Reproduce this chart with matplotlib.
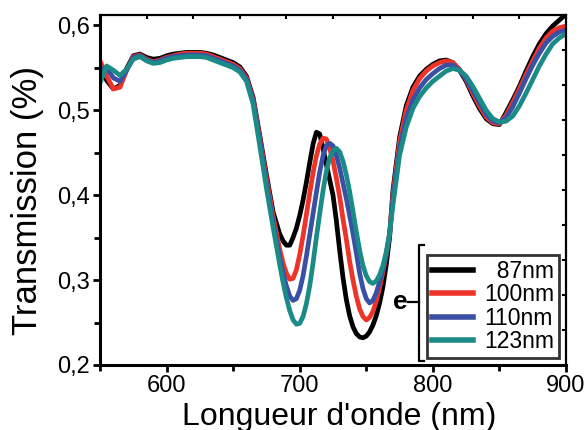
import numpy as np
import matplotlib
matplotlib.use('Agg')
import matplotlib.pyplot as plt
from matplotlib.ticker import MultipleLocator, FuncFormatter

plt.rcParams['font.family'] = ['Liberation Sans', 'DejaVu Sans']

# --- data ---
wavelength = np.concatenate([np.arange(550, 685, 5.0),
                             np.arange(685, 770, 2.5),
                             np.arange(770, 905, 5.0)])

t_87 = [0.553, 0.535, 0.525, 0.529, 0.549, 0.564, 0.566, 0.562, 0.560, 0.561,
        0.564, 0.566, 0.567, 0.568, 0.568, 0.568, 0.567, 0.565, 0.562, 0.559,
        0.556, 0.551, 0.540, 0.515, 0.470, 0.424, 0.380,
        0.354, 0.346, 0.341, 0.341, 0.350, 0.361, 0.376, 0.394, 0.415, 0.438,
        0.460, 0.474, 0.472, 0.455, 0.436, 0.418, 0.400, 0.370, 0.335, 0.303,
        0.277, 0.258, 0.245, 0.237, 0.233, 0.232, 0.234, 0.239, 0.247, 0.258,
        0.273, 0.292, 0.318, 0.350,
        0.405, 0.468, 0.505, 0.527, 0.540, 0.548, 0.554, 0.558, 0.559, 0.556,
        0.547, 0.534, 0.517, 0.502, 0.490, 0.484, 0.483, 0.497, 0.512, 0.528,
        0.546, 0.563, 0.578, 0.590, 0.599, 0.606, 0.613]

t_100 = [0.558, 0.540, 0.525, 0.527, 0.547, 0.563, 0.565, 0.560, 0.557, 0.559,
         0.562, 0.564, 0.566, 0.567, 0.567, 0.567, 0.566, 0.563, 0.560, 0.557,
         0.554, 0.549, 0.538, 0.513, 0.467, 0.420, 0.375,
         0.336, 0.320, 0.308, 0.301, 0.302, 0.312, 0.330, 0.352, 0.377, 0.402,
         0.426, 0.446, 0.460, 0.467, 0.466, 0.455, 0.440, 0.420, 0.398, 0.372,
         0.348, 0.322, 0.300, 0.281, 0.266, 0.257, 0.253, 0.256, 0.263, 0.275,
         0.291, 0.310, 0.330, 0.355,
         0.400, 0.463, 0.500, 0.523, 0.537, 0.546, 0.552, 0.556, 0.558, 0.556,
         0.548, 0.536, 0.520, 0.505, 0.492, 0.485, 0.484, 0.494, 0.509, 0.525,
         0.542, 0.558, 0.573, 0.585, 0.593, 0.597, 0.599]

t_110 = [0.548, 0.550, 0.538, 0.534, 0.547, 0.562, 0.564, 0.559, 0.556, 0.558,
         0.561, 0.563, 0.564, 0.565, 0.565, 0.565, 0.564, 0.561, 0.558, 0.555,
         0.552, 0.547, 0.536, 0.511, 0.464, 0.414, 0.368,
         0.326, 0.308, 0.293, 0.281, 0.276, 0.278, 0.288, 0.305, 0.328, 0.353,
         0.378, 0.403, 0.427, 0.446, 0.458, 0.461, 0.458, 0.447, 0.432, 0.414,
         0.396, 0.376, 0.355, 0.332, 0.308, 0.290, 0.278, 0.273, 0.276, 0.285,
         0.298, 0.313, 0.330, 0.353,
         0.395, 0.455, 0.490, 0.512, 0.526, 0.536, 0.543, 0.549, 0.553, 0.553,
         0.547, 0.537, 0.523, 0.509, 0.495, 0.487, 0.485, 0.491, 0.504, 0.520,
         0.537, 0.553, 0.567, 0.579, 0.587, 0.592, 0.594]

t_123 = [0.532, 0.552, 0.547, 0.541, 0.548, 0.560, 0.563, 0.558, 0.555, 0.556,
         0.559, 0.561, 0.562, 0.563, 0.563, 0.563, 0.562, 0.559, 0.556, 0.553,
         0.550, 0.545, 0.534, 0.507, 0.458, 0.408, 0.362,
         0.318, 0.297, 0.279, 0.264, 0.253, 0.248, 0.249, 0.257, 0.272, 0.293,
         0.320, 0.350, 0.378, 0.405, 0.428, 0.444, 0.452, 0.455, 0.451, 0.440,
         0.424, 0.404, 0.381, 0.357, 0.335, 0.317, 0.305, 0.298, 0.296, 0.299,
         0.306, 0.317, 0.333, 0.355,
         0.388, 0.447, 0.480, 0.502, 0.516, 0.526, 0.534, 0.540, 0.546, 0.549,
         0.547, 0.540, 0.528, 0.514, 0.500, 0.490, 0.486, 0.487, 0.493, 0.505,
         0.520, 0.536, 0.552, 0.566, 0.578, 0.585, 0.590]

labels = ['  87nm', '100nm', '110nm', '123nm']
colors = ['#000000', '#EE3329', '#3A50A5', '#1B8B88']

# --- figure ---
fig = plt.figure(figsize=(5.87, 4.30), dpi=100)
ax = fig.add_axes([0.1704, 0.1512, 0.7938, 0.8139])

for y, lab, c in zip([t_87, t_100, t_110, t_123], labels, colors):
    ax.plot(wavelength, y, color=c, lw=3.4, label=lab, solid_joinstyle='round')

ax.set_xlim(550, 900)
ax.set_ylim(0.2, 0.612)

ax.xaxis.set_major_locator(MultipleLocator(100))
ax.xaxis.set_minor_locator(MultipleLocator(50))
ax.yaxis.set_major_locator(MultipleLocator(0.1))
ax.yaxis.set_minor_locator(MultipleLocator(0.05))
ax.yaxis.set_major_formatter(FuncFormatter(lambda v, p: f"{v:.1f}".replace('.', ',')))
ax.xaxis.set_major_formatter(FuncFormatter(lambda v, p: '' if v < 600 else f"{v:.0f}"))

ax.tick_params(which='both', direction='out', width=2, labelsize=17, pad=2)
ax.tick_params(which='major', length=5)
ax.tick_params(which='minor', length=4)

for side in ['left', 'bottom']:
    ax.spines[side].set_linewidth(2.2)
for side in ['top', 'right']:
    ax.spines[side].set_linewidth(1.6)

# inward ticks on top and right (10 divisions each)
axt = ax.twiny()
axt.set_xlim(0, 10)
axt.set_xticks(np.arange(0, 11))
axt.tick_params(axis='x', direction='in', length=3, width=1.5, labeltop=False)
axr = ax.twinx()
axr.set_ylim(0, 10)
axr.set_yticks(np.arange(0, 11))
axr.tick_params(axis='y', direction='in', length=3, width=1.5, labelright=False)
for a in (axt, axr):
    for s in a.spines.values():
        s.set_visible(False)

ax.set_xlabel("Longueur d'onde (nm)", fontsize=23, va='baseline')
ax.xaxis.set_label_coords(0.513, -0.171)
ax.set_ylabel('Transmission (%)', fontsize=25, va='center')
ax.yaxis.set_label_coords(-0.155, 0.47)

leg = ax.legend(loc='lower right', bbox_to_anchor=(0.985, 0.02), fontsize=16.5,
                frameon=True, fancybox=False, edgecolor='black',
                handlelength=1.8, handletextpad=0.5, labelspacing=0.02,
                borderpad=0.2, borderaxespad=0.0)
leg.get_frame().set_linewidth(2)
for h in leg.get_lines():
    h.set_linewidth(4)

# brace and 'e'
bx = 0.6845
ax.plot([bx + 0.01, bx, bx, bx + 0.01], [0.343, 0.343, 0.011, 0.011],
        transform=ax.transAxes, color='black', lw=1.6, clip_on=False)
ax.plot([0.660, bx], [0.18, 0.18], transform=ax.transAxes, color='black',
        lw=1.6, clip_on=False)
ax.text(0.644, 0.18, 'e', transform=ax.transAxes, fontsize=19, fontweight='bold',
        ha='center', va='center')

fig.savefig('out.png', dpi=100)
